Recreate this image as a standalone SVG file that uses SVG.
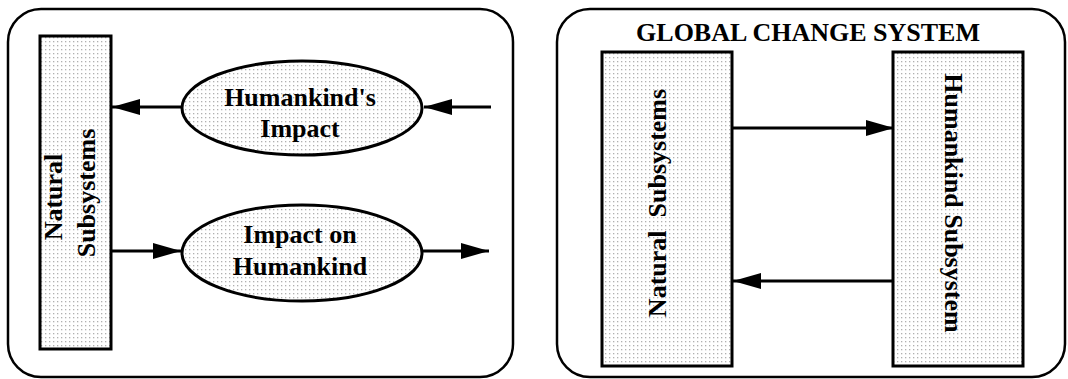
<svg xmlns="http://www.w3.org/2000/svg" width="1068" height="379" viewBox="0 0 1068 379">
<defs>
<pattern id="dots" width="4" height="4" patternUnits="userSpaceOnUse">
<rect width="4" height="4" fill="#ffffff"/>
<rect x="1" y="1" width="1.3" height="1.3" fill="#b0b0b0"/>
</pattern>
<marker id="ah" markerUnits="userSpaceOnUse" markerWidth="30" markerHeight="18" refX="28" refY="8" orient="auto">
<path d="M0,0 L28,8 L0,16 z" fill="#000"/>
</marker>
</defs>
<style>
.frame{fill:#fff;stroke:#000;stroke-width:2.5}
.box{fill:url(#dots);stroke:#000;stroke-width:3}
.t{font-family:"Liberation Serif","Times New Roman",serif;font-weight:bold;font-size:26px;fill:#000}
.c{stroke:#000;stroke-width:2.8;fill:none;marker-end:url(#ah)}
</style>
<rect x="0" y="0" width="1068" height="379" fill="#fff"/>
<g id="panel-left">
<rect class="frame" x="8" y="9" width="505" height="368" rx="33" ry="33"/>
</g>
<g id="panel-right">
<rect class="frame" x="557" y="9" width="508" height="368" rx="33" ry="33"/>
<text class="t" x="808" y="41" text-anchor="middle">GLOBAL CHANGE SYSTEM</text>
</g>
<g id="natural-left">
<rect class="box" x="40" y="36" width="71" height="313"/>
<text class="t" transform="translate(62,197) rotate(-90)" text-anchor="middle">Natural</text>
<text class="t" transform="translate(95,193) rotate(-90)" text-anchor="middle">Subsystems</text>
</g>
<g id="humankinds-impact">
<ellipse class="box" cx="302" cy="108" rx="120" ry="47"/>
<text class="t" x="300" y="106" text-anchor="middle">Humankind's</text>
<text class="t" x="300" y="137" text-anchor="middle">Impact</text>
</g>
<g id="impact-on-humankind">
<ellipse class="box" cx="302" cy="253" rx="120" ry="48"/>
<text class="t" x="300" y="243" text-anchor="middle">Impact on</text>
<text class="t" x="300" y="275" text-anchor="middle">Humankind</text>
</g>
<g id="natural-right">
<rect class="box" x="602" y="52" width="130" height="314"/>
<text class="t" transform="translate(666,203) rotate(-90)" text-anchor="middle" xml:space="preserve">Natural  Subsystems</text>
</g>
<g id="humankind-subsystem">
<rect class="box" x="893" y="52" width="130" height="314"/>
<text class="t" transform="translate(945,203) rotate(90)" text-anchor="middle">Humankind Subsystem</text>
</g>
<g id="connectors">
<line class="c" x1="182" y1="107" x2="112" y2="107"/>
<line class="c" x1="491" y1="107" x2="424" y2="107"/>
<line class="c" x1="111" y1="251" x2="181" y2="251"/>
<line class="c" x1="422" y1="251" x2="489" y2="251"/>
<line class="c" x1="732" y1="128" x2="894" y2="128"/>
<line class="c" x1="893" y1="281" x2="733" y2="281"/>
</g>
</svg>
